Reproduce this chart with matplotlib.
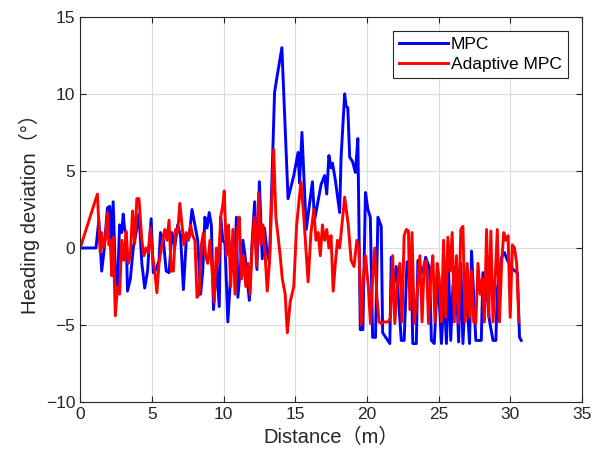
import matplotlib.pyplot as plt
import numpy as np

plt.rcParams['font.family'] = ['Liberation Sans', 'Noto Sans CJK SC', 'DejaVu Sans']

# MPC (blue)
mpc_x = [0, 1.1, 1.3, 1.5, 1.65, 1.9, 2.05, 2.15, 2.3, 2.45, 2.6, 2.75, 2.9, 3.0,
         3.1, 3.2, 3.3, 3.5, 3.7, 3.9, 4.1, 4.3, 4.5, 4.7, 4.8, 4.95, 5.1, 5.3,
         5.5, 5.6, 5.8, 6.0, 6.2, 6.4, 6.6, 6.8, 7.0, 7.2, 7.4, 7.6, 7.8, 8.0,
         8.2, 8.4, 8.55, 8.7, 8.85, 9.0, 9.15, 9.3, 9.5, 9.7, 9.8, 9.95, 10.1,
         10.3, 10.45, 10.6, 10.75, 10.9, 11.0, 11.2, 11.35, 11.5, 11.65, 11.8,
         12.0, 12.17, 12.33, 12.5, 12.7, 12.86, 13.0, 13.2, 13.56, 13.73, 14.07,
         14.5, 14.9, 15.2, 15.3, 15.47, 15.77, 16.2, 16.35, 16.8, 17.05, 17.2,
         17.35, 17.5, 17.6, 17.8, 18.1, 18.2, 18.45, 18.55, 18.67, 18.8, 19.0,
         19.2, 19.37, 19.54, 19.72, 19.9, 20.07, 20.24, 20.4, 20.6, 20.77, 21.0,
         21.1, 21.6, 21.7, 21.8, 22.05, 22.4, 22.6, 22.8, 23.1, 23.2, 23.45,
         23.56, 23.9, 24.1, 24.37, 24.5, 24.7, 24.95, 25.2, 25.4, 25.55, 25.7,
         25.85, 26.0, 26.2, 26.4, 26.55, 26.7, 26.9, 27.16, 27.3, 27.5, 27.6,
         27.98, 28.1, 28.3, 28.55, 28.8, 29.0, 29.1, 29.4, 29.6, 29.8, 30.2,
         30.5, 30.65, 30.77]
mpc_y = [0, 0, 1.8, -1.5, -0.3, 2.6, 2.7, 0.5, 3.0, -1.5, -2.5, 1.5, 1.0, 2.2,
         1.2, 1.0, -2.8, -2.0, 0, 1.0, 2.2, -1.0, -2.6, -1.5, 0, 1.9, -1.6, -1.4,
         -0.8, 1.0, 0.5, -1.5, -1.6, 1.0, 0.1, 1.5, 0.8, -2.7, 0.5, 0.7, 2.5, 1.5,
         0.5, -3.0, -1.5, 2.0, 1.3, 2.3, 1.5, -4.0, -1.0, -3.8, 2.0, 0.5, 0.3,
         -4.8, -2.5, 0.5, -1.5, 2.0, -3.2, -1.0, 0.5, -0.5, -2.0, -3.4,
         0.5, 3.0, -1.4, 4.3, -0.7, 1.3, 0.0, -1.0, 10.1, 11.1, 13.0,
         3.2, 4.7, 6.2, 4.2, 7.5, 1.2, 4.3, 1.8, 4.1, 4.7, 3.5,
         6.0, 5.2, 5.5, 4.4, 2.3, 5.9, 10.0, 9.2, 9.1, 5.9, 5.6,
         4.9, 7.1, -5.3, -5.3, 3.6, 2.5, 2.0, -5.8, -5.8, 2.0, 1.4,
         -5.5, -6.2, -0.6, -2.9, -1.2, -6.0, -6.0, -0.9, -0.9, -6.2, -6.2,
         -0.8, -1.6, -0.6, -1.3, -6.0, -6.2, -1.6, -6.2, -2.9, -6.2, -1.5,
         -6.0, -2.5, -1.2, -6.1, -1.0, -6.2, -2.1, -6.2, -0.2, -4.0, -6.0,
         -6.0, -1.6, -2.1, -4.7, -6.0, -6.0, -2.7, -0.6, -0.3, -0.8, -1.4,
         -1.6, -5.8, -6.0]

# Adaptive MPC (red)
ampc_x = [0, 1.2, 1.4, 1.5, 1.6, 1.75, 1.9, 2.0, 2.1, 2.2, 2.3, 2.45, 2.6, 2.75,
          2.9, 3.05, 3.2, 3.35, 3.5, 3.65, 3.8, 3.95, 4.1, 4.3, 4.45, 4.6, 4.75,
          4.9, 5.05, 5.2, 5.35, 5.5, 5.7, 5.9, 6.05, 6.2, 6.35, 6.5, 6.65, 6.8,
          6.95, 7.1, 7.25, 7.4, 7.55, 7.7, 7.85, 8.0, 8.15, 8.3, 8.45, 8.6, 8.75,
          8.9, 9.05, 9.2, 9.35, 9.5, 9.65, 9.8, 9.95, 10.05, 10.2, 10.35, 10.5,
          10.65, 10.8, 10.95, 11.1, 11.25, 11.4, 11.55, 11.7, 11.85, 12.0, 12.15,
          12.3, 12.45, 12.6, 12.75, 12.9, 13.05, 13.2, 13.5, 13.65, 13.8, 13.95,
          14.1, 14.3, 14.45, 14.65, 14.9, 15.1, 15.4, 15.6, 15.9, 16.1, 16.3,
          16.45, 16.6, 16.75, 16.9, 17.05, 17.2, 17.35, 17.5, 17.65, 17.8, 17.95,
          18.1, 18.45, 18.7, 18.9, 19.1, 19.3, 19.45, 19.6, 19.75, 19.9, 20.1,
          20.25, 20.4, 20.55, 20.7, 20.85, 21.0, 21.2, 21.5, 21.65, 21.8, 21.95,
          22.1, 22.3, 22.45, 22.6, 22.75, 22.9, 23.0, 23.15, 23.3, 23.5, 23.7,
          23.85, 24.0, 24.15, 24.3, 24.45, 24.6, 24.75, 24.9, 25.05, 25.2, 25.35,
          25.5, 25.65, 25.8, 25.95, 26.1, 26.25, 26.4, 26.55, 26.7, 26.85, 27.0,
          27.15, 27.3, 27.45, 27.6, 27.75, 27.9, 28.05, 28.2, 28.35, 28.5, 28.65,
          28.8, 28.95, 29.1, 29.25, 29.4, 29.55, 29.7, 29.85, 30.0, 30.15, 30.3,
          30.45, 30.6]
ampc_y = [0, 3.5, -0.3, 1.0, 0.0, 0.5, 2.3, 0.2, 0.5, -1.8, 0.7, -4.4, -2.5, -3.0,
          0.5, -0.8, 1.1, -1.0, -0.5, 2.4, 0.3, 3.2, 3.2, 0.5, -0.5, 0.0, -0.3,
          1.3, -0.5, -1.5, -2.9, -1.0, 0.2, 1.2, 0.5, 1.8, -1.5, -1.5, 1.2, 1.0,
          2.9, 1.5, 0.2, 1.0, 0.5, 1.5, 0.8, 0.5, -3.2, -3.0, 0.2, 1.0, -0.5,
          -1.0, 0.5, -1.5, -3.5, 0.0, -1.0, 2.0, 2.8, 3.7, -0.5, 1.5, -2.5,
          1.2, -3.0, 1.0, 2.0, -2.0, -0.5, -2.5, -1.0, -3.0, 0.3, 2.0,
          -1.2, 3.6, 0.2, 1.5, -0.5, -2.8, -1.0, 6.4, 2.0, 0.8, -0.5,
          -2.0, -3.0, -5.5, -3.5, -2.5, 1.5, 4.3, 2.0, -2.2, 1.0, 2.5,
          0.5, 1.0, -0.5, 1.5, 0.5, 1.2, 0.0, 0.8, -2.8, -1.0, 0.5,
          0.0, 3.3, 1.5, -0.8, -1.2, 0.5, 0.0, -5.0, -2.0, -0.5, -2.5,
          -4.9, -2.0, 0.0, -3.2, -4.8, -4.9, -4.8, -4.8, -4.5, -0.5, -4.9,
          -2.5, -1.0, -4.8, 0.8, 1.2, 1.1, -4.0, 1.0, -4.9, -3.0, -0.5,
          -4.8, -1.0, -0.8, -4.9, -2.0, -0.5, -4.8, -1.0, -2.0, -4.8, 0.5,
          -4.5, 0.7, -1.5, 1.0, -4.8, -0.5, -4.9, 1.2, 1.4, -4.8, -1.0,
          -4.5, -1.5, -4.8, -4.9, -1.0, -3.0, -2.0, -4.8, 1.2, -4.5, 1.1,
          -4.8, -2.0, 1.2, -4.8, -1.0, 1.0, 0.5, 0.8, -4.5, 0.2, 0.0,
          -1.0, -4.8]

fig = plt.figure(figsize=(6.03, 4.67), dpi=100)
ax = fig.add_axes([0.133, 0.139, 0.832, 0.825])

ax.plot(mpc_x, mpc_y, color=(0, 0, 1), linewidth=2.1, label='MPC')
ax.plot(ampc_x, ampc_y, color=(1, 0, 0), linewidth=2.1, label='Adaptive MPC')

ax.set_xlim(0, 35)
ax.set_ylim(-10, 15)
ax.set_xticks(np.arange(0, 36, 5))
ax.set_yticks(np.arange(-10, 16, 5))
ax.grid(True, color='#dcdcdc', linewidth=0.8)
ax.set_axisbelow(True)
ax.tick_params(direction='in', top=True, right=True, labelsize=12.5,
               colors='#262626', length=4)
for s in ax.spines.values():
    s.set_color('#262626')
    s.set_linewidth(0.8)

ax.set_xlabel('Distance（m）', fontsize=14.5, color='#262626')
ax.set_ylabel('Heading deviation（°）', fontsize=14.5, color='#262626')

leg = ax.legend(loc='upper right', fontsize=12.5, fancybox=False, framealpha=1,
                edgecolor='#262626', handlelength=2.8, borderaxespad=0.8,
                borderpad=0.35, labelspacing=0.3, handletextpad=0.2)
leg.get_frame().set_linewidth(0.8)

fig.savefig('out.png', dpi=100)
